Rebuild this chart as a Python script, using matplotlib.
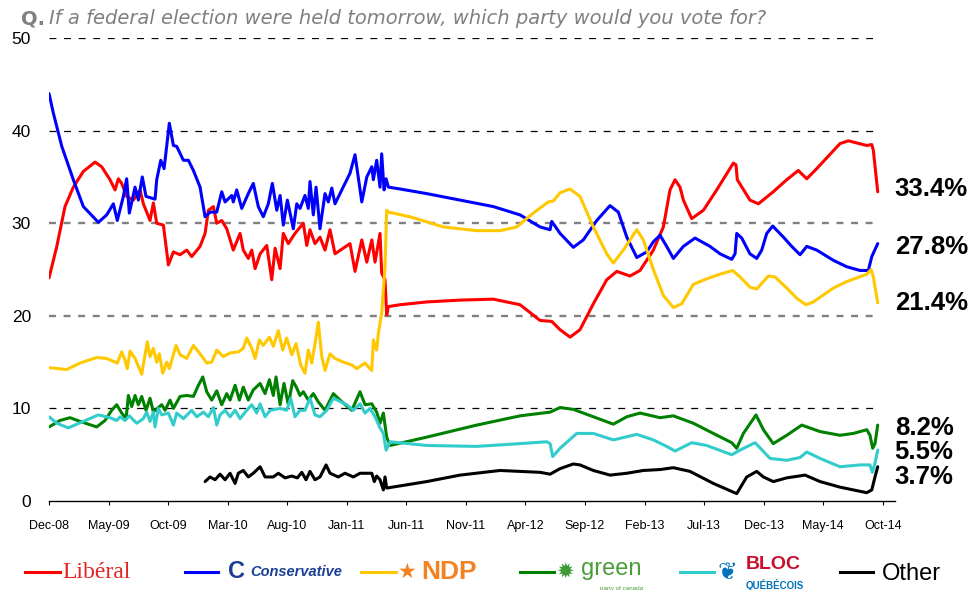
import matplotlib
matplotlib.use('Agg')
import matplotlib.pyplot as plt
from matplotlib.lines import Line2D

# months since Dec-08 and vote share (%)
lib_x = [0.00, 0.65, 1.34, 2.04, 2.88, 3.86, 4.42, 5.12, 5.54, 5.82, 6.10, 6.52, 7.08, 7.64, 7.92,
         8.48, 8.76, 9.04, 9.60, 10.02, 10.44, 11.00, 11.56, 11.98, 12.68, 13.10, 13.38, 13.80, 14.08,
         14.50, 14.92, 15.47, 16.04, 16.31, 16.73, 17.02, 17.30, 17.72, 18.28, 18.70, 18.98, 19.40,
         19.67, 20.09, 20.65, 21.35, 21.64, 21.91, 22.33, 22.75, 23.17, 23.59, 24.01, 25.27, 25.69,
         26.26, 26.68, 27.10, 27.37, 27.79, 27.93, 28.21, 28.35, 28.49, 29.47, 31.71, 34.51, 37.30,
         39.55, 41.23, 42.21, 42.91, 43.75, 44.58, 45.70, 46.83, 47.67, 48.78, 49.62, 50.74, 51.58,
         52.14, 52.56, 52.98, 53.26, 53.96, 54.94, 56.06, 57.46, 57.68, 57.79, 58.85, 59.56, 60.81,
         61.94, 62.91, 63.62, 64.46, 66.41, 67.11, 68.66, 69.08, 69.21, 69.58]
lib_y = [24.1, 27.5, 31.8, 33.9, 35.6, 36.6, 36.1, 34.7, 33.6, 34.8, 34.3, 32.9, 32.5, 33.6, 32.1,
         30.3, 32.2, 30.0, 29.8, 25.5, 26.9, 26.6, 27.1, 26.4, 27.5, 28.9, 31.4, 31.8, 30.0,
         30.3, 29.4, 27.1, 28.9, 27.1, 26.2, 27.1, 25.1, 26.7, 27.6, 23.9, 27.3, 25.1,
         28.9, 27.8, 28.9, 30.0, 27.6, 29.3, 27.8, 28.5, 27.1, 29.3, 26.7, 27.8, 24.8,
         28.2, 25.8, 28.2, 25.8, 28.9, 24.6, 23.9, 20.1, 21.0, 21.2, 21.5, 21.7, 21.8,
         21.2, 19.5, 19.4, 18.5, 17.7, 18.5, 21.3, 23.9, 24.8, 24.3, 24.9, 27.1, 29.6,
         33.6, 34.7, 33.9, 32.5, 30.5, 31.4, 33.6, 36.5, 36.3, 34.7, 32.5, 32.1, 33.4,
         34.7, 35.7, 34.8, 35.9, 38.6, 38.9, 38.4, 38.5, 37.9, 33.4]

con_x = [0.00, 0.36, 1.07, 2.04, 2.88, 4.14, 4.84, 5.40, 5.73, 6.24, 6.52, 6.74, 7.22, 7.50, 7.83,
         8.14, 8.90, 9.04, 9.38, 9.66, 10.10, 10.44, 10.72, 11.28, 11.70, 12.12, 12.68, 13.10, 13.52,
         14.08, 14.50, 14.78, 15.34, 15.47, 15.76, 16.18, 16.73, 17.15, 17.57, 17.99, 18.41, 18.75,
         19.12, 19.40, 19.67, 20.01, 20.51, 20.80, 21.07, 21.49, 21.77, 21.91, 22.19, 22.42, 22.75,
         23.17, 23.45, 23.74, 24.01, 25.27, 25.69, 26.26, 26.68, 27.10, 27.23, 27.51, 27.79, 27.93,
         28.13, 28.30, 28.49, 29.47, 31.71, 34.51, 37.30, 39.55, 41.23, 42.07, 42.21, 42.91, 44.02,
         44.86, 45.99, 47.10, 47.80, 48.51, 49.35, 50.18, 50.74, 51.30, 51.86, 52.42, 53.26, 54.24,
         55.50, 56.34, 57.32, 57.60, 57.74, 58.16, 58.85, 59.42, 59.84, 60.26, 60.76, 61.66, 62.36,
         63.06, 63.62, 64.46, 65.85, 66.98, 68.09, 68.79, 69.08, 69.58]
con_y = [44.0, 41.9, 38.3, 34.7, 31.8, 30.1, 30.9, 32.1, 30.3, 32.9, 34.8, 31.1, 33.9, 32.5, 35.0,
         32.9, 32.6, 34.7, 36.8, 35.9, 40.8, 38.4, 38.3, 36.8, 36.8, 35.7, 33.9, 30.7, 31.2,
         31.2, 33.4, 32.3, 33.0, 32.3, 33.6, 31.6, 33.2, 34.3, 31.8, 30.7, 32.1, 34.3,
         31.4, 33.0, 29.8, 32.5, 29.4, 32.1, 31.6, 33.0, 31.6, 34.5, 30.9, 33.9, 29.4,
         33.2, 32.3, 33.8, 32.1, 35.4, 37.4, 32.3, 35.0, 36.1, 34.7, 36.8, 33.9, 37.5,
         33.6, 34.8, 33.9, 33.7, 33.2, 32.5, 31.8, 30.9, 29.6, 29.3, 30.2, 28.9, 27.4,
         28.2, 30.3, 31.9, 31.2, 28.5, 26.3, 26.9, 28.0, 28.7, 27.5, 26.2, 27.5, 28.4,
         27.5, 26.7, 26.1, 26.7, 28.9, 28.4, 26.7, 26.2, 27.1, 28.9, 29.7, 28.5, 27.5,
         26.6, 27.5, 27.1, 26.0, 25.3, 24.9, 24.9, 26.4, 27.8]

ndp_x = [0.00, 1.49, 2.60, 4.00, 4.84, 5.73, 6.10, 6.38, 6.57, 6.80, 7.22, 7.78, 8.25, 8.48, 8.76,
         9.04, 9.26, 9.55, 9.88, 10.10, 10.39, 10.66, 11.00, 11.56, 12.12, 12.68, 13.24, 13.66, 14.08,
         14.64, 15.20, 15.89, 16.31, 16.60, 17.02, 17.30, 17.66, 17.99, 18.50, 18.83, 19.25, 19.62,
         19.96, 20.38, 20.74, 21.13, 21.49, 21.77, 22.06, 22.42, 22.61, 22.90, 23.17, 23.59, 24.01,
         24.71, 25.42, 25.84, 26.53, 27.10, 27.23, 27.51, 27.65, 27.93, 28.21, 28.35, 28.49, 30.31,
         33.11, 35.91, 37.87, 39.27, 40.66, 41.92, 42.34, 42.91, 43.75, 44.58, 45.70, 46.83, 47.38,
         48.22, 49.35, 49.90, 50.74, 51.58, 52.42, 53.12, 54.10, 55.22, 56.34, 57.41, 58.02, 58.85,
         59.42, 59.84, 60.40, 60.96, 61.94, 62.78, 63.56, 64.17, 65.85, 66.98, 68.66, 69.02, 69.21,
         69.58]
ndp_y = [14.4, 14.2, 14.9, 15.5, 15.4, 14.9, 16.1, 15.2, 14.3, 16.2, 15.4, 13.7, 17.2, 15.6, 16.5,
         15.0, 15.9, 13.8, 15.0, 14.3, 15.6, 16.8, 15.8, 15.4, 16.8, 15.9, 14.9, 15.0, 16.3,
         15.6, 16.0, 16.1, 16.5, 17.6, 16.5, 15.4, 17.4, 16.8, 17.7, 16.7, 18.4, 16.3,
         17.6, 15.8, 17.0, 14.7, 13.8, 16.3, 14.9, 17.7, 19.3, 15.6, 14.1, 15.9, 15.4,
         15.0, 14.7, 14.3, 14.9, 14.1, 17.4, 16.3, 18.1, 20.3, 25.3, 31.4, 31.2, 30.7,
         29.6, 29.2, 29.2, 29.6, 31.1, 32.3, 32.4, 33.3, 33.7, 32.9, 29.6, 26.7, 25.7,
         27.1, 29.3, 28.2, 25.0, 22.2, 20.9, 21.3, 23.4, 24.0, 24.5, 24.9, 24.2, 23.1,
         22.9, 23.5, 24.3, 24.2, 23.0, 21.9, 21.2, 21.5, 23.0, 23.7, 24.5, 25.0, 24.2,
         21.4]

grn_x = [0.00, 0.92, 1.76, 2.60, 4.00, 4.70, 5.26, 5.68, 6.10, 6.47, 6.66, 6.94, 7.22, 7.50, 7.78,
         8.14, 8.48, 8.76, 9.09, 9.46, 9.74, 10.16, 10.44, 11.00, 11.56, 12.12, 12.54, 12.91, 13.24,
         13.66, 14.08, 14.50, 14.92, 15.20, 15.62, 15.98, 16.31, 16.73, 17.15, 17.72, 18.14, 18.50,
         18.83, 19.06, 19.40, 19.73, 20.09, 20.46, 20.80, 21.07, 21.35, 21.77, 22.19, 22.61, 23.17,
         23.87, 24.43, 25.42, 26.11, 26.53, 27.10, 27.51, 27.79, 28.07, 28.35, 28.63, 31.71, 35.91,
         39.55, 42.07, 42.91, 44.02, 45.70, 47.38, 48.51, 49.62, 51.30, 52.42, 54.10, 55.78, 57.32,
         57.74, 58.30, 59.36, 59.98, 60.81, 61.94, 63.20, 64.74, 66.41, 67.53, 68.66, 68.93, 69.16,
         69.35, 69.58]
grn_y = [8.0, 8.7, 9.0, 8.6, 8.0, 8.7, 9.8, 10.4, 9.5, 8.9, 11.4, 10.2, 11.4, 10.4, 11.3,
         9.8, 11.1, 9.6, 10.0, 10.4, 9.8, 10.9, 10.0, 11.3, 11.4, 11.3, 12.5, 13.4, 11.8,
         10.9, 11.9, 10.4, 11.6, 10.9, 12.5, 10.9, 12.3, 10.9, 12.0, 12.7, 11.6, 13.1,
         11.4, 13.4, 10.4, 12.7, 10.4, 13.0, 12.2, 11.4, 11.8, 10.9, 11.6, 10.7, 9.8,
         11.6, 10.9, 9.8, 11.8, 10.4, 10.5, 9.6, 8.4, 9.5, 6.9, 6.0, 6.9, 8.2,
         9.2, 9.6, 10.1, 9.9, 9.1, 8.3, 9.1, 9.5, 9.0, 9.2, 8.4, 7.3, 6.3,
         5.7, 7.3, 9.3, 7.7, 6.2, 7.1, 8.2, 7.5, 7.1, 7.3, 7.7, 7.1, 5.7,
         6.2, 8.2]

bq_x = [0.00, 0.65, 1.62, 2.88, 4.14, 5.12, 5.68, 5.96, 6.38, 6.74, 7.36, 7.92, 8.20, 8.48, 8.76,
        8.90, 9.18, 9.46, 10.02, 10.44, 10.72, 11.28, 11.98, 12.40, 12.96, 13.38, 13.80, 14.08, 14.36,
        14.78, 15.20, 15.62, 16.04, 16.60, 17.02, 17.44, 17.72, 18.14, 18.56, 19.40, 19.96, 20.29,
        20.65, 21.07, 21.49, 21.91, 22.33, 22.75, 23.32, 23.87, 25.00, 25.55, 26.11, 26.53, 26.95,
        27.37, 27.79, 28.07, 28.30, 28.63, 31.71, 35.91, 39.55, 41.79, 42.07, 42.29, 42.91, 44.31,
        45.70, 47.38, 49.35, 50.74, 51.86, 52.56, 53.96, 55.22, 57.32, 58.02, 59.28, 60.54, 61.94,
        63.06, 63.62, 64.74, 66.41, 68.09, 68.93, 69.13, 69.35, 69.58]
bq_y = [9.1, 8.4, 7.9, 8.6, 9.3, 9.0, 8.7, 9.1, 8.7, 9.2, 8.4, 8.9, 9.6, 8.6, 9.6,
        8.0, 10.0, 9.3, 9.5, 8.2, 9.5, 8.9, 9.8, 9.1, 9.6, 9.1, 10.1, 8.2, 9.3,
        9.8, 9.1, 9.8, 8.9, 9.8, 10.4, 9.5, 10.5, 9.1, 9.8, 10.0, 9.8, 11.1,
        9.1, 9.8, 9.8, 11.1, 9.3, 9.1, 9.8, 11.1, 10.4, 9.8, 10.5, 9.5, 10.0,
        9.1, 7.9, 7.3, 5.5, 6.4, 6.0, 5.9, 6.2, 6.4, 6.2, 4.8, 5.7, 7.3,
        7.3, 6.6, 7.2, 6.6, 5.9, 5.4, 6.3, 6.0, 5.0, 5.5, 6.3, 4.6, 4.4,
        4.7, 5.3, 4.6, 3.7, 3.9, 3.9, 3.1, 4.1, 5.5]

oth_x = [13.10, 13.52, 13.94, 14.36, 14.78, 15.20, 15.62, 15.89, 16.31, 16.73, 17.15, 17.72, 18.14,
         18.83, 19.25, 19.82, 20.38, 20.85, 21.22, 21.58, 21.91, 22.33, 22.75, 23.26, 23.59, 24.29,
         24.85, 25.55, 26.11, 27.10, 27.31, 27.51, 27.79, 28.07, 28.21, 28.35, 31.71, 34.51, 37.87,
         41.23, 42.07, 42.91, 44.02, 44.58, 45.70, 47.10, 48.51, 49.90, 51.30, 52.42, 53.82, 55.78,
         57.74, 58.58, 59.42, 59.98, 60.81, 61.94, 63.48, 64.74, 66.41, 67.53, 68.66, 69.08, 69.35,
         69.58]
oth_y = [2.1, 2.6, 2.3, 2.9, 2.3, 3.0, 1.9, 3.0, 3.3, 2.6, 3.0, 3.7, 2.6,
         2.6, 3.0, 2.5, 2.7, 2.5, 3.1, 2.3, 3.2, 2.3, 2.6, 3.9, 3.0, 2.6,
         3.0, 2.6, 3.0, 3.0, 2.1, 2.7, 2.3, 1.2, 2.6, 1.4, 2.1, 2.8, 3.3,
         3.1, 2.9, 3.5, 4.0, 3.9, 3.3, 2.8, 3.0, 3.3, 3.4, 3.6, 3.2, 1.9,
         0.8, 2.6, 3.2, 2.6, 2.1, 2.5, 2.8, 2.1, 1.5, 1.2, 0.9, 1.2, 2.6,
         3.7]

tick_labels = ['Dec-08', 'May-09', 'Oct-09', 'Mar-10', 'Aug-10', 'Jan-11', 'Jun-11', 'Nov-11',
               'Apr-12', 'Sep-12', 'Feb-13', 'Jul-13', 'Dec-13', 'May-14', 'Oct-14']
end_labels = ['33.4%', '27.8%', '21.4%', '8.2%', '5.5%', '3.7%']
end_label_y = [33.7, 27.4, 21.4, 7.9, 5.3, 2.6]

series = [
    (lib_x, lib_y, '#ff0000'),
    (con_x, con_y, '#0000ff'),
    (ndp_x, ndp_y, '#ffc800'),
    (grn_x, grn_y, '#008000'),
    (bq_x, bq_y, '#33cccc'),
    (oth_x, oth_y, '#000000'),
]

plt.rcParams['font.family'] = ['Liberation Sans', 'DejaVu Sans']
plt.rcParams['lines.scale_dashes'] = False

fig = plt.figure(figsize=(9.77, 5.9), dpi=100)
ax = fig.add_axes([0.0502, 0.1508, 0.8655, 0.7847])
ax.set_xlim(0, 71)
ax.set_ylim(0, 50)

# horizontal guide lines
for yv in [10, 40, 50]:
    ax.hlines(yv, 0, 69.7, colors='black', linewidth=0.9, linestyles=(0, (5, 5.5)), zorder=1)
for yv in [20, 30]:
    ax.hlines(yv, 0, 69.7, colors='#808080', linewidth=1.7, linestyles=(0, (5, 5.5)), zorder=1)

for xs, ys, c in series:
    ax.plot(xs, ys, color=c, linewidth=2.2, solid_joinstyle='round', solid_capstyle='round', zorder=3)

for s in ['top', 'right', 'left']:
    ax.spines[s].set_visible(False)
ax.spines['bottom'].set_linewidth(1.0)

ax.set_xticks(range(0, 71, 5))
ax.set_xticklabels(tick_labels, fontsize=9)
ax.tick_params(axis='x', direction='out', length=3, width=0.8, pad=11)
ax.set_yticks([0, 10, 20, 30, 40, 50])
ax.tick_params(axis='y', length=0, labelsize=12.5, pad=13)

for lab, yv in zip(end_labels, end_label_y):
    ax.text(71.0, yv, lab, fontsize=18.5, fontweight='bold', ha='left', va='center',
            clip_on=False)

# question title
fig.text(0.022, 0.968, 'Q.', fontsize=14, fontweight='bold', color='#808080',
         family='DejaVu Sans', va='center')
fig.text(0.050, 0.968, 'If a federal election were held tomorrow, which party would you vote for?',
         fontsize=14, style='italic', color='#808080', family='DejaVu Sans', va='center')

# legend (logos approximated with text)
ly = 1 - 572 / 590.0


def leg_line(x0, x1, c):
    fig.add_artist(Line2D([x0 / 977.0, x1 / 977.0], [ly, ly], color=c, linewidth=2.2,
                          transform=fig.transFigure))


leg_line(25, 60, '#ff0000')
fig.text(62 / 977.0, ly, 'Libéral', fontsize=17, color='#e52421', family='Liberation Serif',
         va='center')
leg_line(185, 218, '#0000ff')
fig.text(228 / 977.0, ly, 'C', fontsize=17, fontweight='bold', color='#1b3f94', va='center')
fig.text(250 / 977.0, ly, 'Conservative', fontsize=10.5, fontweight='bold', style='italic',
         color='#1b3f94', va='center')
leg_line(361, 396, '#ffc800')
fig.text(398 / 977.0, ly, '\u2605', fontsize=15, color='#f58220', va='center', family='DejaVu Sans')
fig.text(421 / 977.0, ly, 'NDP', fontsize=19, fontweight='bold', color='#f58220', va='center')
leg_line(520, 554, '#008000')
fig.text(556 / 977.0, ly, '\u2739', fontsize=15, color='#3d9b35', va='center', family='DejaVu Sans')
fig.text(581 / 977.0, ly + 0.005, 'green', fontsize=17, color='#4a9e3a', va='center')
fig.text(600 / 977.0, ly - 0.028, 'party of canada', fontsize=4.5, color='#4a9e3a', va='center')
leg_line(680, 714, '#33cccc')
fig.text(718 / 977.0, ly, '\u2766', fontsize=17, color='#0072bc', va='center', family='DejaVu Sans')
fig.text(746 / 977.0, ly + 0.012, 'BLOC', fontsize=14, fontweight='bold', color='#c8102e',
         va='center')
fig.text(746 / 977.0, ly - 0.022, 'QUÉBÉCOIS', fontsize=7, fontweight='bold', color='#0072bc',
         va='center')
leg_line(840, 873, '#000000')
fig.text(882 / 977.0, ly - 0.004, 'Other', fontsize=17, color='black', va='center')

fig.savefig('out.png', dpi=100)
